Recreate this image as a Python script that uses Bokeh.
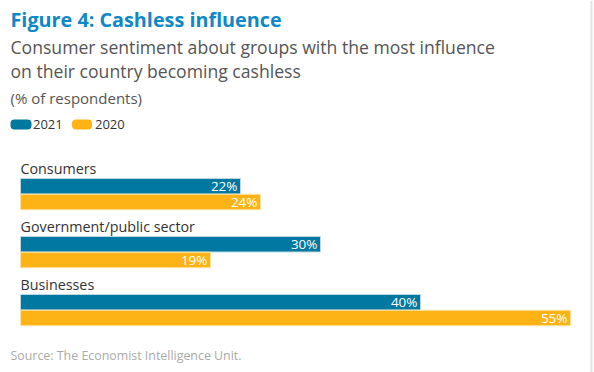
from bokeh.plotting import figure
from bokeh.models import Range1d, ColumnDataSource
from bokeh.core.properties import value
from bokeh.transform import dodge
from bokeh.embed import file_html
from bokeh.resources import INLINE

categories = ["Consumers", "Government/public sector", "Businesses"]
values_2021 = [22, 30, 40]
values_2020 = [24, 19, 55]
series_names = ["2021", "2020"]

BLUE = "#00789f"
ORANGE = "#fdb316"
FONT = "Open Sans"

W, H = 594, 372
# x: percent scale, y: screen-like pixel coordinates (top = 0)
p = figure(width=W, height=H, output_backend="svg", toolbar_location=None,
           x_range=Range1d(-2.0, 57.4), y_range=Range1d(372, 0),
           min_border=0, min_border_left=0, min_border_right=0,
           min_border_top=0, min_border_bottom=0)
p.axis.visible = False
p.grid.visible = False
p.outline_line_color = None
p.background_fill_color = "white"

n = len(categories)
base = [185.75 + 58 * i for i in range(n)]
src21 = ColumnDataSource(dict(
    y=base, left=[0] * n, right=values_2021,
    lab=[f"{v}%" for v in values_2021]))
src20 = ColumnDataSource(dict(
    y=[b + 15.75 for b in base], left=[0] * n, right=values_2020,
    lab=[f"{v}%" for v in values_2020]))
srccat = ColumnDataSource(dict(y=[b - 17.5 for b in base], x=[0] * n, t=categories))

p.hbar(y="y", left="left", right="right", height=15.5, source=src21,
       fill_color=BLUE, line_color="#bcd7e4", line_width=1)
p.hbar(y="y", left="left", right="right", height=15.5, source=src20,
       fill_color=ORANGE, line_color="#fde3a6", line_width=1)

for s in (src21, src20):
    p.text(x=dodge("right", -0.3, range=p.x_range), y="y", text="lab", source=s,
           text_color="white", text_font=value(FONT), text_font_size="13.5px",
           text_align="right", text_baseline="middle")
p.text(x="x", y="y", text="t", source=srccat, text_color="#333333",
       text_font=value(FONT), text_font_size="14.3px", text_baseline="middle")

def txt(x, y, s, size, color, style="normal"):
    p.text(x=[x], y=[y], text=[s], text_color=color, text_font=value(FONT),
           text_font_size=size, text_font_style=style, text_baseline="middle")

txt(-1.0, 19, "Figure 4: Cashless influence", "19.8px", "#0e88c6", "bold")
txt(-1.0, 46, "Consumer sentiment about groups with the most influence", "17.6px", "#555555")
txt(-1.0, 70, "on their country becoming cashless", "17.6px", "#555555")
txt(-1.0, 97, "(% of respondents)", "15px", "#555555")
txt(-1.0, 355, "Source: The Economist Intelligence Unit.", "12.4px", "#aaaaaa")

# legend
p.rect(x=[0.05], y=[124], width=2.1, height=10, fill_color=BLUE, line_color=None,
       border_radius=4)
p.rect(x=[6.15], y=[124], width=2.0, height=10, fill_color=ORANGE, line_color=None,
       border_radius=4)
txt(1.25, 124, series_names[0], "13px", "#333333")
txt(7.45, 124, series_names[1], "13px", "#333333")

# right border line
p.segment(x0=[57.1], y0=[0], x1=[57.1], y1=[372], line_color="#e4e4e4", line_width=2)

open("out.html", "w").write(file_html(p, INLINE))
